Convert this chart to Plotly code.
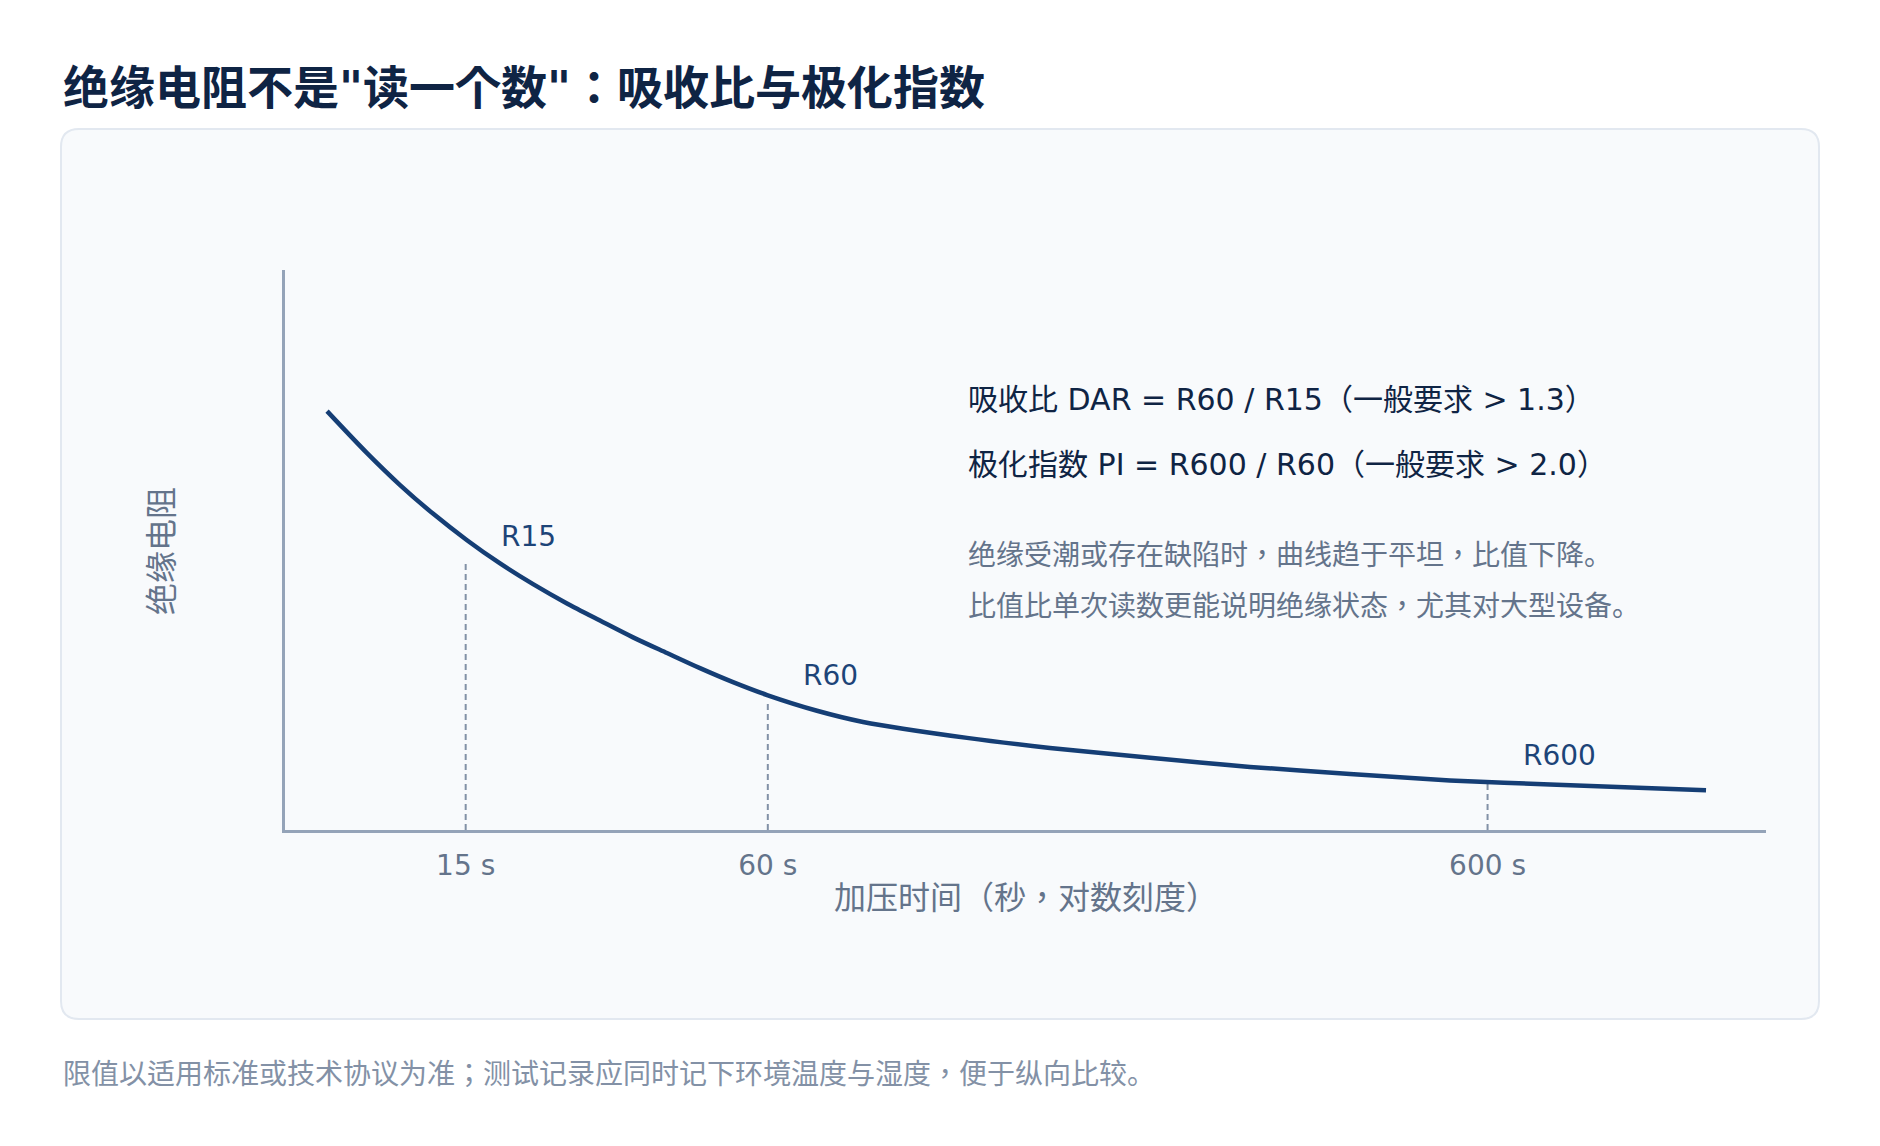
import plotly.graph_objects as go

# ---------------- data ----------------
# position along the drawn (compressed logarithmic) time axis, 0..1000
curve_pos = [28.4, 55.4, 77.7, 99.9, 122.9, 145.2, 167.5, 190.4, 212.7, 235.0, 257.9,
             280.2, 302.5, 325.5, 359.2, 390.3, 460.5, 516.5, 584.1, 651.6, 719.1,
             786.6, 854.2, 959.5]
# relative insulation resistance (arbitrary units)
curve_r = [74.8, 67.3, 61.6, 56.5, 51.75, 47.6, 43.9, 40.45, 37.4, 34.4, 31.6,
           28.9, 26.4, 24.1, 21.3, 19.3, 16.45, 14.66, 12.9, 11.27, 10.0,
           8.86, 8.14, 7.1]

reading_names = ["R15", "R60", "R600"]
reading_pos = [122, 326, 812]
reading_r = [47.7, 22.9, 8.6]
tick_labels = ["15 s", "60 s", "600 s"]

title_text = '绝缘电阻不是"读一个数"：吸收比与极化指数'
formula_lines = ["吸收比 DAR = R60 / R15（一般要求 > 1.3）",
                 "极化指数 PI = R600 / R60（一般要求 > 2.0）"]
note_lines = ["绝缘受潮或存在缺陷时，曲线趋于平坦，比值下降。",
              "比值比单次读数更能说明绝缘状态，尤其对大型设备。"]
x_title = "加压时间（秒，对数刻度）"
y_title = "绝缘电阻"
footer_text = "限值以适用标准或技术协议为准；测试记录应同时记下环境温度与湿度，便于纵向比较。"

# ---------------- layout geometry ----------------
W, H = 1880, 1146
L, R, T, B = 285, 1880 - 1766, 270, 1146 - 830
PW, PH = W - L - R, H - T - B
FONT = "DejaVu Sans, Noto Sans CJK KR, sans-serif"
PUNCT_FONT = "Noto Sans CJK TC"

def fmt(s):
    # centred full-width comma glyphs
    return s.replace("，", f'<span style="font-family:{PUNCT_FONT}">，</span>')

def px(xp):
    return (xp - L) / PW

def py(yp):
    return (T + PH - yp) / PH

NAVY = "#153e75"
DARK = "#0f2444"
GRAY = "#64748b"
AXIS = "#94a3b8"

fig = go.Figure()

# dashed reading lines
for pos, r in zip(reading_pos, reading_r):
    fig.add_trace(go.Scatter(x=[pos, pos], y=[0, r], mode="lines",
                             line=dict(color="#8291a6", width=2, dash="6px,4px"),
                             hoverinfo="skip", showlegend=False))

# curve
fig.add_trace(go.Scatter(x=curve_pos, y=curve_r, mode="lines",
                         line=dict(color=NAVY, width=4.5, shape="spline", smoothing=0.8),
                         hoverinfo="skip", showlegend=False))

annotations = []
for name, pos, r in zip(reading_names, reading_pos, reading_r):
    annotations.append(dict(x=pos, y=r, xref="x", yref="y", text=name, showarrow=False,
                            xanchor="left", yanchor="middle", xshift=33, yshift=26,
                            font=dict(family=FONT, size=28, color="#1d4478")))

# title
annotations.append(dict(x=px(61), y=py(88), xref="paper", yref="paper", text="<b>" + title_text + "</b>",
                        showarrow=False, xanchor="left", yanchor="middle",
                        font=dict(family=FONT, size=46, color=DARK)))
# formulas
for t, yy in zip(formula_lines, [399, 464]):
    annotations.append(dict(x=px(966), y=py(yy), xref="paper", yref="paper", text=fmt(t),
                            showarrow=False, xanchor="left", yanchor="middle",
                            font=dict(family=FONT, size=30, color=DARK)))
for t, yy in zip(note_lines, [553, 604]):
    annotations.append(dict(x=px(966), y=py(yy), xref="paper", yref="paper", text=fmt(t),
                            showarrow=False, xanchor="left", yanchor="middle",
                            font=dict(family=FONT, size=28, color=GRAY)))
# axis titles
annotations.append(dict(x=0.5, y=py(895), xref="paper", yref="paper", text=fmt(x_title),
                        showarrow=False, xanchor="center", yanchor="middle",
                        font=dict(family=FONT, size=32, color=GRAY)))
annotations.append(dict(x=px(162), y=py(551), xref="paper", yref="paper", text=y_title,
                        showarrow=False, xanchor="center", yanchor="middle", textangle=-90,
                        font=dict(family=FONT, size=32, color=GRAY)))
# footer
annotations.append(dict(x=px(61), y=py(1072), xref="paper", yref="paper", text=fmt(footer_text),
                        showarrow=False, xanchor="left", yanchor="middle",
                        font=dict(family=FONT, size=28, color="#8391a6")))

# card background with rounded corners
x0, x1, y0, y1 = 61, 1819, 129, 1019
rad = 18
rx, ry = rad / PW, rad / PH
X0, X1, Y0, Y1 = px(x0), px(x1), py(y1), py(y0)
path = (f"M {X0+rx},{Y1} L {X1-rx},{Y1} Q {X1},{Y1} {X1},{Y1-ry} "
        f"L {X1},{Y0+ry} Q {X1},{Y0} {X1-rx},{Y0} "
        f"L {X0+rx},{Y0} Q {X0},{Y0} {X0},{Y0+ry} "
        f"L {X0},{Y1-ry} Q {X0},{Y1} {X0+rx},{Y1} Z")
shapes = [dict(type="path", path=path, xref="paper", yref="paper", layer="below",
               fillcolor="#f8fafc", line=dict(color="#e2e8f0", width=2))]

fig.update_layout(
    width=W, height=H,
    margin=dict(l=L, r=R, t=T, b=B, pad=0),
    paper_bgcolor="white", plot_bgcolor="rgba(0,0,0,0)",
    showlegend=False,
    annotations=annotations, shapes=shapes,
    xaxis=dict(range=[0, 1000], showgrid=False, zeroline=False, showline=True,
               linecolor=AXIS, linewidth=2.5, tickvals=reading_pos, ticktext=tick_labels,
               ticks="outside", ticklen=9, tickcolor="rgba(0,0,0,0)",
               tickfont=dict(family=FONT, size=28, color=GRAY), fixedrange=True),
    yaxis=dict(range=[0, 100], showgrid=False, zeroline=False, showline=True,
               linecolor=AXIS, linewidth=2.5, showticklabels=False, ticks="",
               fixedrange=True),
    hovermode=False,
)

fig.write_html("out.html", config={"displayModeBar": False},
               post_script="document.body.style.margin='0';document.body.style.overflow='hidden';")
